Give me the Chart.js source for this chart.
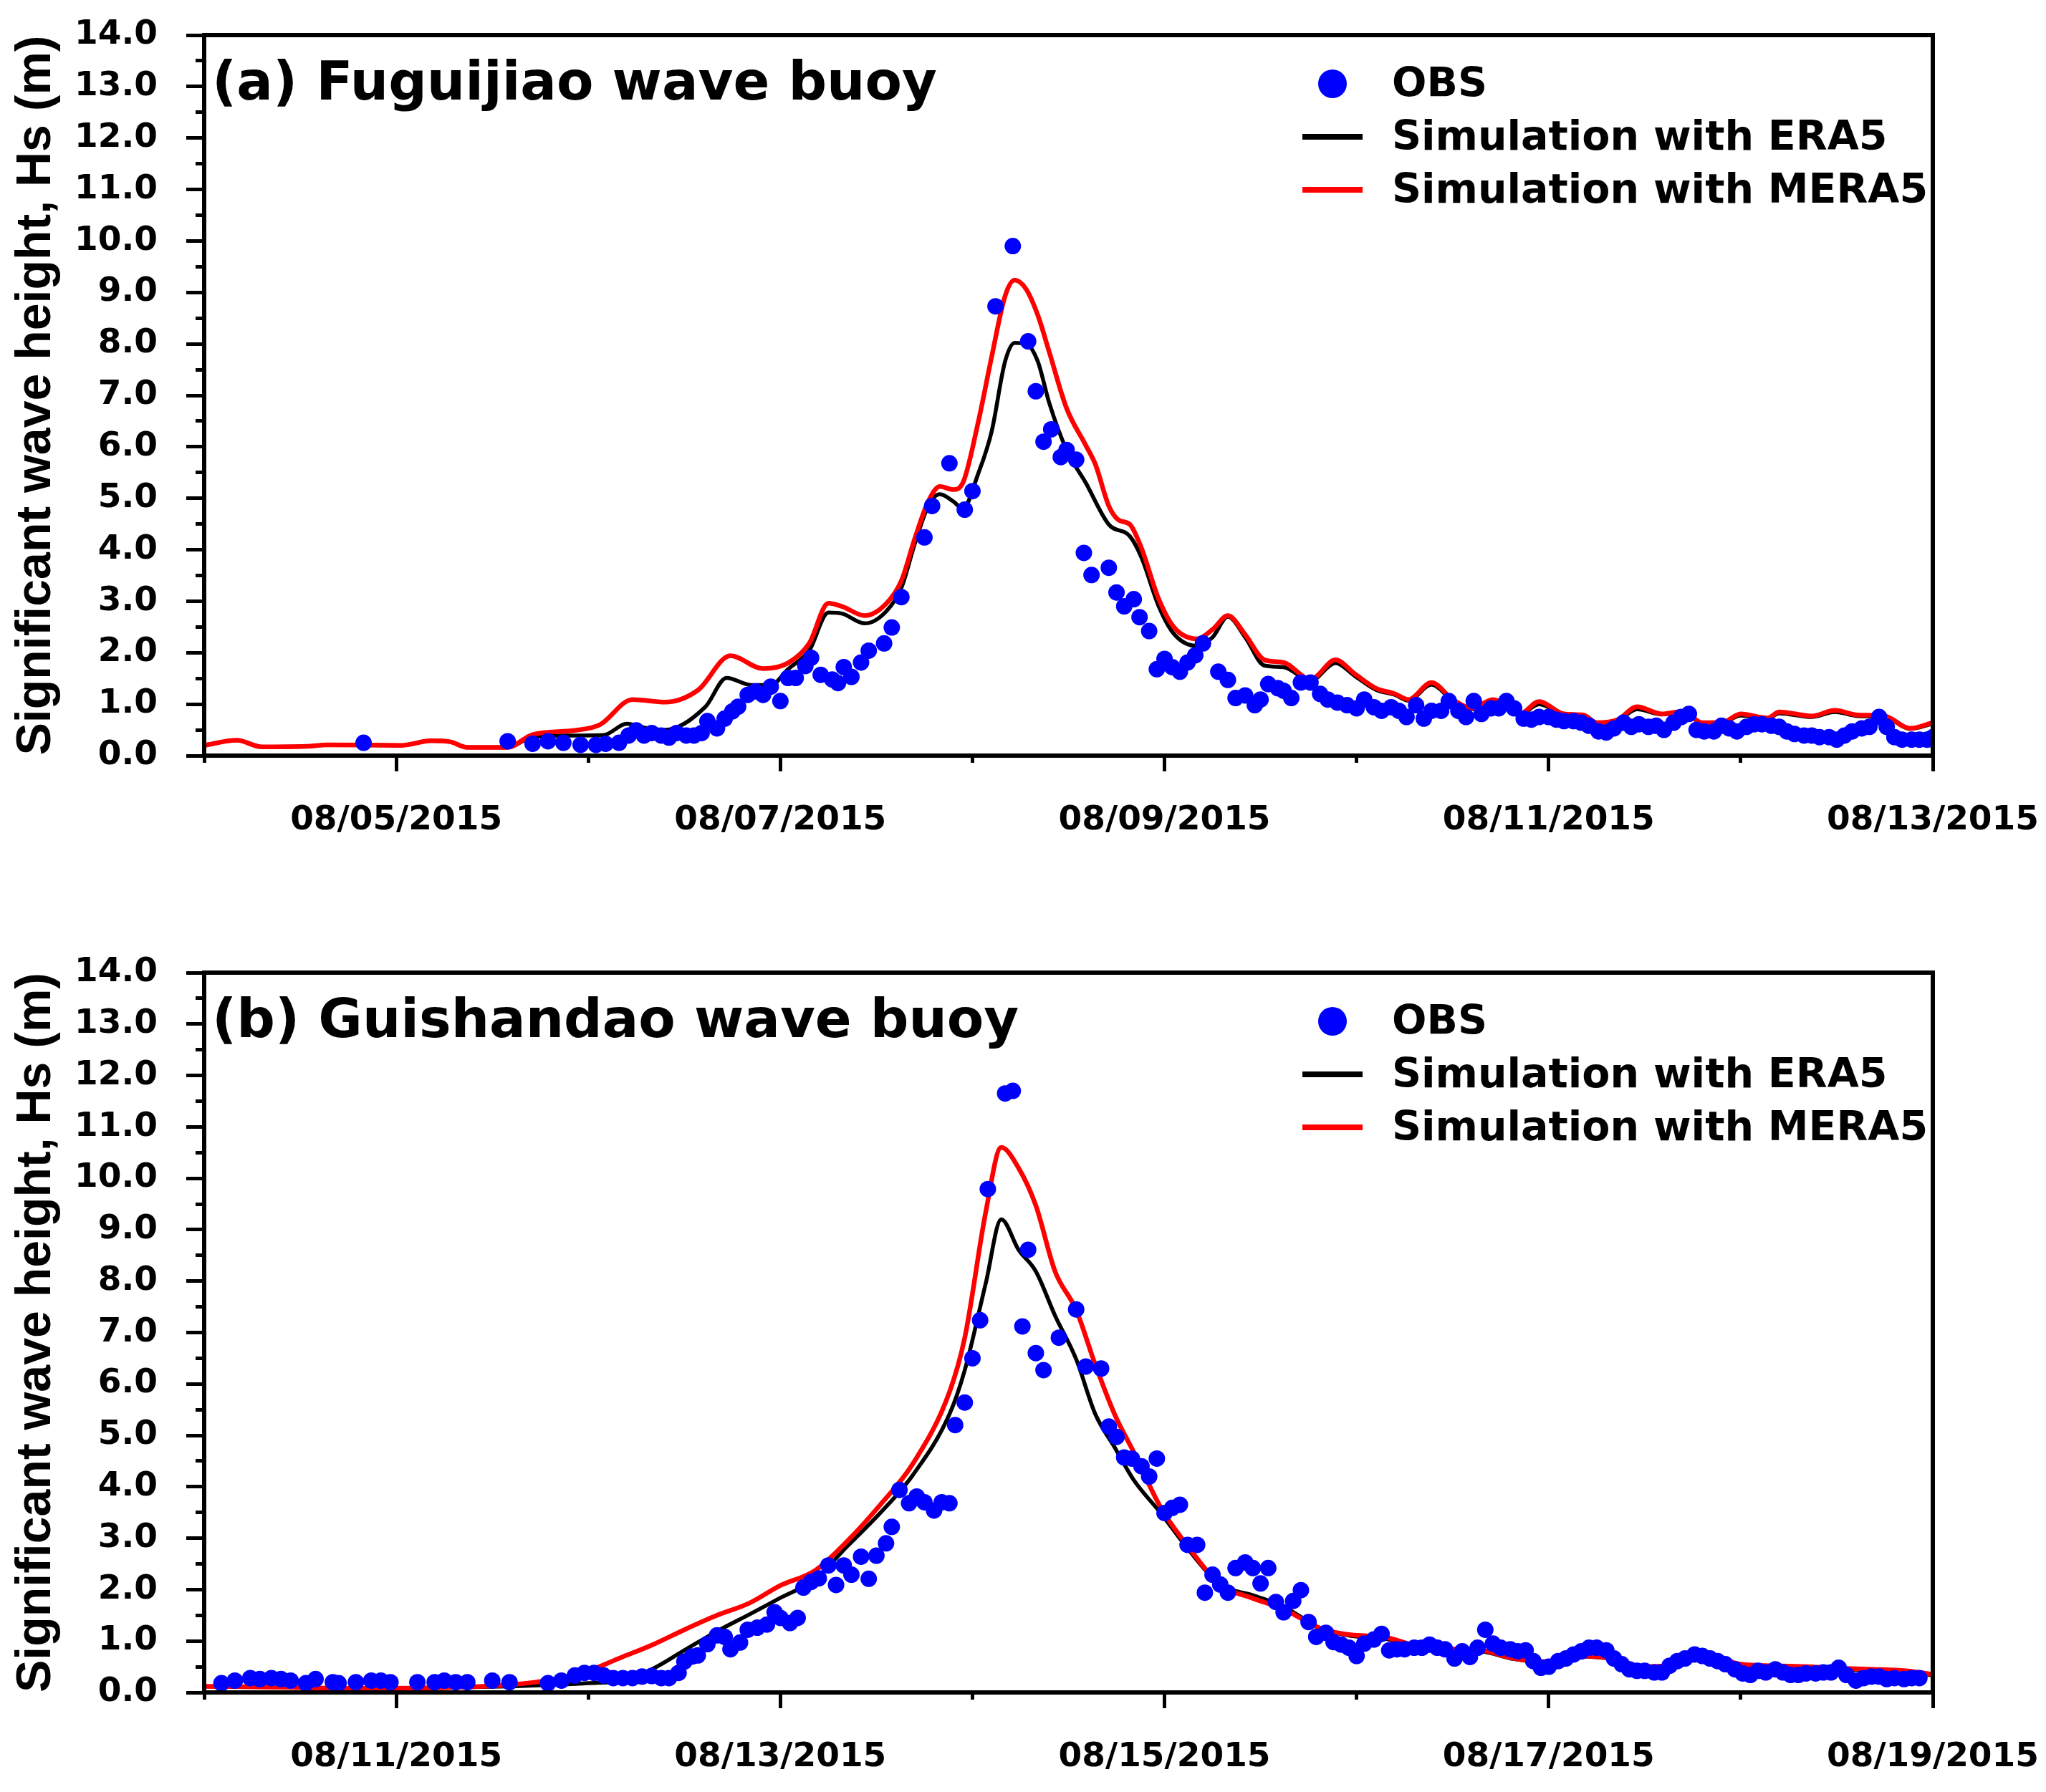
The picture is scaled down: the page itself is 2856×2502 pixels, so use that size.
<!DOCTYPE html>
<html>
<head>
<meta charset="utf-8">
<script src="https://cdn.jsdelivr.net/npm/chart.js@4.4.1/dist/chart.umd.min.js"></script>
<style>
  html, body { margin: 0; padding: 0; background: #fff; }
  #wrap { position: relative; width: 2856px; height: 2502px; }
  canvas { position: absolute; left: 0; }
  #chartA { top: 0; width: 2856px; height: 1250px; }
  #chartB { top: 1250px; width: 2856px; height: 1252px; }
</style>
</head>
<body>
<div id="wrap">
  <canvas id="chartA" width="2856" height="1250"></canvas>
  <canvas id="chartB" width="2856" height="1252"></canvas>
</div>
<script>
// x values are days since the first date of each panel (08/04 for a, 08/10 for b)
const seriesNames = ['OBS', 'Simulation with ERA5', 'Simulation with MERA5'];

const tickDays = [1, 3, 5, 7, 9];
const aTickLabels = ['08/05/2015', '08/07/2015', '08/09/2015', '08/11/2015', '08/13/2015'];
const bTickLabels = ['08/11/2015', '08/13/2015', '08/15/2015', '08/17/2015', '08/19/2015'];

// (a) Fuguijiao
const aObs = [[0.83,0.25],[1.58,0.28],[1.71,0.23],[1.79,0.28],[1.87,0.25],[1.96,0.21],[2.04,0.21],[2.09,0.23],
  [2.16,0.25],[2.21,0.39],[2.25,0.49],[2.29,0.39],[2.33,0.44],[2.38,0.39],[2.42,0.35],[2.46,0.44],[2.51,0.39],
  [2.55,0.39],[2.59,0.44],[2.62,0.67],[2.67,0.53],[2.71,0.72],[2.75,0.86],[2.78,0.95],[2.83,1.18],[2.87,1.25],
  [2.91,1.18],[2.95,1.34],[3.0,1.06],[3.04,1.51],[3.08,1.51],[3.13,1.74],[3.16,1.9],[3.21,1.57],[3.27,1.48],
  [3.3,1.41],[3.33,1.72],[3.37,1.53],[3.42,1.81],[3.46,2.04],[3.54,2.18],[3.58,2.49],[3.63,3.08],[3.75,4.24],
  [3.79,4.85],[3.88,5.68],[3.96,4.78],[4.0,5.14],[4.12,8.73],[4.21,9.9],[4.29,8.05],[4.33,7.08],[4.37,6.1],
  [4.41,6.34],[4.46,5.8],[4.49,5.94],[4.54,5.75],[4.58,3.94],[4.62,3.51],[4.71,3.65],[4.75,3.17],[4.79,2.9],
  [4.84,3.04],[4.87,2.69],[4.92,2.42],[4.96,1.68],[5.0,1.88],[5.04,1.72],[5.08,1.63],[5.12,1.81],[5.16,1.95],
  [5.2,2.18],[5.28,1.63],[5.33,1.47],[5.37,1.12],[5.42,1.17],[5.47,0.98],[5.5,1.09],[5.54,1.39],[5.59,1.31],
  [5.62,1.26],[5.66,1.12],[5.71,1.42],[5.76,1.42],[5.81,1.2],[5.85,1.09],[5.9,1.03],[5.95,0.98],[6.0,0.92],
  [6.04,1.09],[6.09,0.94],[6.13,0.87],[6.18,0.94],[6.22,0.87],[6.26,0.75],[6.31,0.98],[6.35,0.72],[6.39,0.87],
  [6.44,0.87],[6.48,1.06],[6.53,0.87],[6.57,0.75],[6.61,1.06],[6.65,0.81],[6.7,0.92],[6.74,0.92],[6.78,1.06],
  [6.82,0.92],[6.87,0.72],[6.91,0.7],[6.95,0.75],[7.0,0.75],[7.04,0.7],[7.08,0.67],[7.13,0.67],[7.17,0.64],
  [7.21,0.58],[7.26,0.47],[7.3,0.45],[7.34,0.53],[7.39,0.64],[7.43,0.56],[7.47,0.61],[7.52,0.56],[7.56,0.58],
  [7.6,0.5],[7.65,0.64],[7.69,0.75],[7.73,0.81],[7.77,0.5],[7.81,0.47],[7.86,0.47],[7.9,0.58],[7.94,0.53],
  [7.98,0.47],[8.03,0.56],[8.07,0.61],[8.11,0.61],[8.16,0.58],[8.2,0.56],[8.24,0.47],[8.28,0.42],[8.33,0.39],
  [8.37,0.39],[8.41,0.36],[8.46,0.36],[8.5,0.31],[8.54,0.39],[8.58,0.47],[8.63,0.53],[8.67,0.56],[8.72,0.75],
  [8.76,0.56],[8.8,0.36],[8.84,0.31],[8.89,0.31],[8.93,0.31],[8.97,0.31],[9.0,0.36]];

const aEra5 = [[0,0.2],[0.17,0.3],[0.3,0.17],[0.535,0.18],[0.64,0.21],[1.03,0.2],[1.18,0.29],[1.28,0.27],
  [1.37,0.16],[1.58,0.16],[1.71,0.36],[1.88,0.39],[2.08,0.4],[2.2,0.62],[2.31,0.53],[2.4,0.5],[2.61,0.95],
  [2.72,1.51],[2.85,1.37],[2.95,1.37],[3.04,1.68],[3.15,2.04],[3.25,2.78],[3.32,2.76],[3.44,2.57],[3.55,2.8],
  [3.63,3.26],[3.7,4.12],[3.77,4.85],[3.83,5.08],[3.9,4.94],[3.95,4.8],[4.03,5.48],[4.1,6.3],[4.17,7.66],
  [4.22,8.02],[4.28,8.0],[4.34,7.66],[4.4,6.85],[4.49,5.94],[4.59,5.3],[4.71,4.49],[4.82,4.26],[4.88,3.85],
  [4.97,2.9],[5.05,2.36],[5.17,2.13],[5.25,2.3],[5.33,2.7],[5.42,2.3],[5.52,1.75],[5.62,1.72],[5.76,1.45],
  [5.89,1.8],[5.99,1.55],[6.1,1.28],[6.2,1.18],[6.27,1.07],[6.39,1.38],[6.5,1.07],[6.6,0.9],[6.71,1.05],
  [6.85,0.8],[6.95,1.0],[7.08,0.8],[7.18,0.77],[7.25,0.63],[7.36,0.68],[7.46,0.9],[7.59,0.8],[7.7,0.84],
  [7.8,0.63],[7.9,0.63],[8.0,0.78],[8.14,0.72],[8.2,0.82],[8.37,0.75],[8.49,0.85],[8.61,0.77],[8.75,0.75],
  [8.88,0.52],[9.0,0.62]];

const aMera5 = [[0,0.2],[0.17,0.3],[0.3,0.17],[0.535,0.18],[0.64,0.21],[1.03,0.2],[1.18,0.29],[1.28,0.27],
  [1.37,0.16],[1.58,0.16],[1.71,0.41],[1.93,0.49],[2.06,0.6],[2.23,1.09],[2.4,1.04],[2.57,1.27],[2.74,1.94],
  [2.91,1.69],[3.04,1.8],[3.15,2.18],[3.25,2.96],[3.32,2.9],[3.44,2.72],[3.55,2.95],[3.63,3.4],[3.7,4.22],
  [3.77,4.94],[3.83,5.23],[3.9,5.17],[3.95,5.3],[4.03,6.48],[4.1,7.75],[4.17,8.93],[4.22,9.24],[4.28,9.06],
  [4.34,8.56],[4.4,7.84],[4.49,6.75],[4.59,6.03],[4.64,5.66],[4.71,4.85],[4.76,4.58],[4.82,4.49],[4.88,4.03],
  [4.97,3.04],[5.05,2.49],[5.17,2.27],[5.25,2.45],[5.33,2.72],[5.42,2.35],[5.52,1.86],[5.62,1.81],[5.76,1.48],
  [5.89,1.86],[5.99,1.59],[6.1,1.31],[6.2,1.2],[6.27,1.09],[6.39,1.42],[6.5,1.09],[6.6,0.92],[6.71,1.09],
  [6.85,0.81],[6.95,1.05],[7.08,0.81],[7.18,0.79],[7.25,0.64],[7.36,0.7],[7.46,0.95],[7.59,0.81],[7.7,0.86],
  [7.8,0.64],[7.9,0.64],[8.0,0.81],[8.14,0.73],[8.2,0.85],[8.37,0.77],[8.49,0.88],[8.61,0.79],[8.75,0.77],
  [8.88,0.53],[9.0,0.64]];

// (b) Guishandao
const bObs = [[0.09,0.18],[0.16,0.23],[0.24,0.28],[0.29,0.26],[0.35,0.28],[0.4,0.26],[0.45,0.23],[0.53,0.18],
  [0.58,0.26],[0.67,0.2],[0.7,0.18],[0.79,0.2],[0.87,0.23],[0.92,0.23],[0.97,0.2],[1.11,0.2],[1.2,0.2],
  [1.25,0.23],[1.31,0.2],[1.37,0.2],[1.5,0.23],[1.59,0.2],[1.79,0.18],[1.86,0.23],[1.93,0.33],[1.98,0.38],
  [2.03,0.38],[2.08,0.33],[2.13,0.28],[2.18,0.28],[2.23,0.28],[2.28,0.31],[2.33,0.32],[2.38,0.28],[2.42,0.28],
  [2.47,0.38],[2.5,0.6],[2.54,0.7],[2.57,0.72],[2.62,0.94],[2.67,1.11],[2.71,1.08],[2.74,0.84],[2.79,0.97],
  [2.83,1.22],[2.88,1.26],[2.93,1.32],[2.97,1.56],[3.0,1.45],[3.05,1.35],[3.09,1.45],[3.12,2.04],[3.16,2.15],
  [3.2,2.22],[3.25,2.47],[3.29,2.09],[3.33,2.47],[3.37,2.29],[3.42,2.64],[3.46,2.21],[3.5,2.66],[3.55,2.9],
  [3.58,3.22],[3.62,3.94],[3.67,3.68],[3.71,3.81],[3.75,3.7],[3.8,3.54],[3.84,3.7],[3.88,3.68],[3.91,5.2],
  [3.96,5.64],[4.0,6.5],[4.04,7.24],[4.08,9.79],[4.17,11.65],[4.21,11.7],[4.26,7.12],[4.29,8.61],[4.33,6.6],
  [4.37,6.27],[4.45,6.9],[4.54,7.45],[4.59,6.34],[4.67,6.3],[4.71,5.17],[4.75,4.97],[4.79,4.57],[4.83,4.55],
  [4.88,4.4],[4.92,4.2],[4.96,4.55],[5.0,3.49],[5.04,3.59],[5.08,3.65],[5.12,2.87],[5.17,2.87],[5.21,1.94],
  [5.25,2.29],[5.29,2.1],[5.33,1.94],[5.37,2.42],[5.42,2.53],[5.46,2.42],[5.5,2.12],[5.54,2.42],[5.58,1.76],
  [5.62,1.56],[5.67,1.78],[5.71,1.99],[5.75,1.37],[5.79,1.08],[5.84,1.16],[5.88,0.98],[5.92,0.93],[5.96,0.87],
  [6.0,0.71],[6.04,0.95],[6.09,1.03],[6.13,1.14],[6.17,0.82],[6.21,0.84],[6.25,0.84],[6.3,0.87],[6.34,0.87],
  [6.38,0.93],[6.42,0.87],[6.46,0.84],[6.51,0.66],[6.55,0.8],[6.59,0.69],[6.63,0.87],[6.67,1.22],[6.71,0.95],
  [6.75,0.87],[6.8,0.84],[6.84,0.8],[6.88,0.82],[6.92,0.61],[6.96,0.48],[7.0,0.5],[7.05,0.61],[7.09,0.66],
  [7.13,0.74],[7.17,0.8],[7.21,0.87],[7.25,0.87],[7.3,0.82],[7.34,0.66],[7.38,0.55],[7.42,0.45],[7.46,0.42],
  [7.5,0.42],[7.55,0.39],[7.59,0.39],[7.63,0.52],[7.67,0.61],[7.71,0.66],[7.76,0.74],[7.8,0.71],[7.84,0.66],
  [7.88,0.61],[7.92,0.55],[7.97,0.45],[8.01,0.37],[8.05,0.34],[8.09,0.42],[8.13,0.39],[8.18,0.45],[8.22,0.39],
  [8.26,0.34],[8.3,0.34],[8.34,0.37],[8.39,0.37],[8.43,0.39],[8.47,0.39],[8.51,0.48],[8.55,0.34],[8.6,0.23],
  [8.64,0.28],[8.68,0.31],[8.72,0.31],[8.76,0.26],[8.8,0.28],[8.85,0.26],[8.89,0.28],[8.93,0.28]];

const bEra5 = [[0,0.12],[0.4,0.1],[0.8,0.08],[1.2,0.09],[1.59,0.12],[1.83,0.15],[2.0,0.18],[2.17,0.23],
  [2.33,0.45],[2.5,0.82],[2.67,1.19],[2.84,1.52],[3.0,1.84],[3.18,2.2],[3.35,2.85],[3.52,3.49],[3.69,4.23],
  [3.88,5.41],[3.96,6.27],[4.07,7.97],[4.15,9.2],[4.24,8.61],[4.33,8.19],[4.43,7.33],[4.54,6.48],[4.64,5.41],
  [4.74,4.77],[4.84,4.13],[4.98,3.49],[5.12,2.8],[5.29,2.1],[5.46,1.89],[5.62,1.67],[5.81,1.25],[5.97,1.1],
  [6.14,1.05],[6.3,0.9],[6.48,0.83],[6.65,0.8],[6.82,0.65],[7.0,0.58],[7.16,0.7],[7.33,0.65],[7.5,0.48],
  [7.67,0.53],[7.84,0.7],[8.0,0.53],[8.17,0.5],[8.35,0.48],[8.52,0.45],[8.69,0.43],[8.86,0.4],[9.0,0.33]];

const bMera5 = [[0,0.12],[0.4,0.1],[0.8,0.08],[1.2,0.09],[1.59,0.15],[1.83,0.26],[2.0,0.42],[2.17,0.68],
  [2.33,0.92],[2.5,1.22],[2.67,1.5],[2.84,1.74],[3.0,2.08],[3.18,2.37],[3.35,2.95],[3.52,3.65],[3.69,4.45],
  [3.88,5.84],[3.96,6.9],[4.07,9.36],[4.15,10.6],[4.24,10.2],[4.33,9.47],[4.43,8.19],[4.54,7.44],[4.64,6.37],
  [4.74,5.41],[4.84,4.67],[4.98,3.6],[5.12,2.85],[5.29,2.1],[5.46,1.83],[5.62,1.62],[5.81,1.25],[5.97,1.12],
  [6.14,1.08],[6.3,0.92],[6.48,0.85],[6.65,0.82],[6.82,0.66],[7.0,0.6],[7.16,0.71],[7.33,0.66],[7.5,0.5],
  [7.67,0.55],[7.84,0.71],[8.0,0.55],[8.17,0.52],[8.35,0.5],[8.52,0.47],[8.69,0.45],[8.86,0.42],[9.0,0.35]];

const tickFont = { family: 'DejaVu Sans', weight: 'bold', size: 47 };

// frame, panel title and the legend block inside the plot
const panelDecor = {
  id: 'panelDecor',
  afterDraw(chart, args, opts) {
    const { ctx, chartArea: a } = chart;
    ctx.save();
    ctx.lineWidth = 6;
    ctx.strokeStyle = '#000';
    ctx.strokeRect(a.left, a.top, a.right - a.left, a.bottom - a.top);

    ctx.fillStyle = '#000';
    ctx.font = 'bold 75px "DejaVu Sans"';
    ctx.textAlign = 'left';
    ctx.textBaseline = 'alphabetic';
    ctx.fillText(opts.title, a.left + 11, a.top + 90);

    ctx.font = 'bold 57px "DejaVu Sans"';
    ctx.textBaseline = 'middle';
    chart.data.datasets.forEach((ds, i) => {
      const y = a.top + 68 + i * 74;
      const mx = a.right - 838;
      if (ds.showLine === false) {
        ctx.fillStyle = ds.pointBackgroundColor;
        ctx.beginPath();
        ctx.arc(mx, y, 20, 0, Math.PI * 2);
        ctx.fill();
      } else {
        ctx.strokeStyle = ds.borderColor;
        ctx.lineWidth = 8;
        ctx.beginPath();
        ctx.moveTo(mx - 42, y);
        ctx.lineTo(mx + 42, y);
        ctx.stroke();
      }
      ctx.fillStyle = '#000';
      ctx.fillText(ds.label, a.right - 755, y + 3);
    });
    ctx.restore();
  }
};

function toXY(pairs) {
  return pairs.map(p => ({ x: p[0], y: p[1] }));
}

// fixed axis boxes so the plot area lands where the figure has it
function fixHeight(h) {
  return s => { s.height = h; s.paddingLeft = 0; s.paddingRight = 0; };
}
function fixWidth(w) {
  return s => { s.width = w; s.paddingTop = 0; s.paddingBottom = 0; };
}

function makePanel(id, title, obs, era5, mera5, tickLabels, topPad, xAxisHeight) {
  const ctx = document.getElementById(id);
  return new Chart(ctx, {
    type: 'scatter',
    data: {
      datasets: [
        {
          label: seriesNames[0],
          data: toXY(obs),
          showLine: false,
          pointRadius: 11.5,
          pointBackgroundColor: '#0000ff',
          pointBorderWidth: 0,
          order: 0
        },
        {
          label: seriesNames[1],
          data: toXY(era5),
          showLine: true,
          borderColor: '#000000',
          borderWidth: 5.5,
          pointRadius: 0,
          cubicInterpolationMode: 'monotone',
          order: 2
        },
        {
          label: seriesNames[2],
          data: toXY(mera5),
          showLine: true,
          borderColor: '#ff0000',
          borderWidth: 6.5,
          pointRadius: 0,
          cubicInterpolationMode: 'monotone',
          order: 1
        }
      ]
    },
    options: {
      responsive: false,
      animation: false,
      devicePixelRatio: 1,
      layout: { padding: { top: topPad, right: 158, bottom: 0, left: 0 } },
      plugins: {
        legend: { display: false },
        tooltip: { enabled: false },
        panelDecor: { title: title }
      },
      scales: {
        x: {
          type: 'linear', position: 'bottom', min: 0, max: 9, weight: 1,
          afterBuildTicks: s => { s.ticks = tickDays.map(v => ({ value: v })); },
          afterFit: fixHeight(xAxisHeight),
          grid: { drawOnChartArea: false, drawTicks: true, tickLength: 22, tickWidth: 5, tickColor: '#000' },
          border: { display: false },
          ticks: {
            autoSkip: false, maxRotation: 0, padding: 41, color: '#000', font: tickFont,
            callback: v => tickLabels[tickDays.indexOf(v)]
          }
        },
        xMinor: {
          type: 'linear', position: 'bottom', min: 0, max: 9, weight: 0,
          afterFit: fixHeight(0),
          grid: { drawOnChartArea: false, drawTicks: true, tickLength: 10, tickWidth: 5, tickColor: '#000' },
          border: { display: false },
          ticks: { stepSize: 1, display: false }
        },
        y: {
          type: 'linear', position: 'left', min: 0, max: 14, weight: 1,
          afterFit: fixWidth(285),
          grid: { drawOnChartArea: false, drawTicks: true, tickLength: 25, tickWidth: 5, tickColor: '#000' },
          border: { display: false },
          ticks: {
            stepSize: 1, padding: 40, color: '#000', font: tickFont,
            callback: v => v.toFixed(1)
          },
          title: {
            display: true,
            text: 'Significant wave height, Hs (m)',
            color: '#000',
            font: { family: 'Liberation Sans', weight: 'bold', size: 68 },
            padding: { top: 10, bottom: 0 }
          }
        },
        yMinor: {
          type: 'linear', position: 'left', min: 0, max: 14, weight: 0,
          afterFit: fixWidth(0),
          grid: { drawOnChartArea: false, drawTicks: true, tickLength: 12, tickWidth: 5, tickColor: '#000' },
          border: { display: false },
          ticks: { stepSize: 0.5, display: false }
        }
      }
    },
    plugins: [panelDecor]
  });
}

makePanel('chartA', '(a) Fuguijiao wave buoy', aObs, aEra5, aMera5, aTickLabels, 49, 195);
makePanel('chartB', '(b) Guishandao wave buoy', bObs, bEra5, bMera5, bTickLabels, 108, 139);
</script>
</body>
</html>
